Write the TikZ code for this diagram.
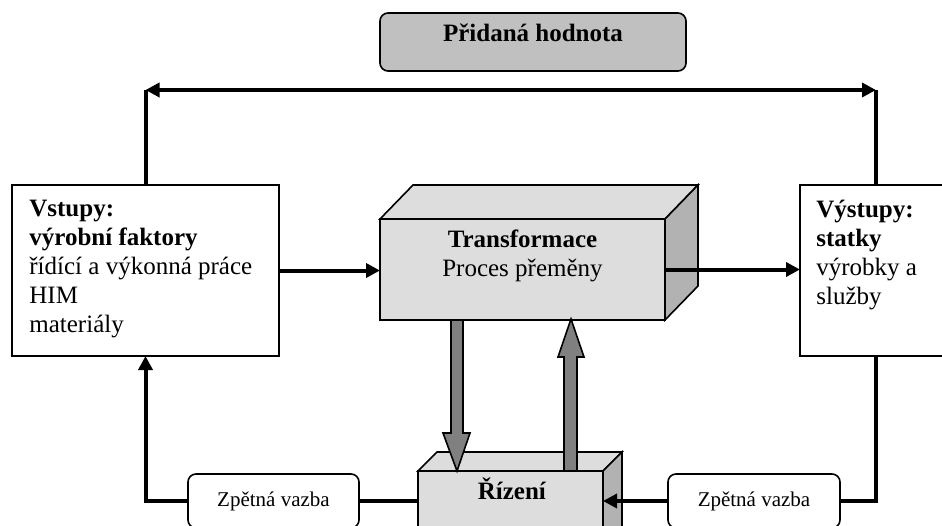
\documentclass[tikz,border=0pt]{standalone}
\usepackage{fontspec}
\setmainfont{Liberation Serif}
\usetikzlibrary{arrows.meta}
\definecolor{facegray}{RGB}{221,221,221}
\definecolor{sidegray}{RGB}{178,178,178}
\definecolor{arrowgray}{RGB}{128,128,128}
\definecolor{headgray}{RGB}{192,192,192}

\begin{document}
\begin{tikzpicture}
        [x=0.5pt,y=-0.5pt,
         box/.style={draw, line width=0.8pt, fill=white, inner sep=0pt, outer sep=0pt},
         face/.style={draw, line width=0.8pt, fill=facegray},
         roundbox/.style={box, rounded corners=4pt},
         blockarr/.style={draw, line width=0.8pt, fill=arrowgray},
         link/.style={line width=2pt},
         flow/.style={link, -{Triangle[length=7pt,width=7pt]}},
         txt/.style={inner sep=0pt, font=\fontsize{12.5}{14.5}\selectfont}]
        \clip (0,0) rectangle (942,525);
        %-----boxes
         \node[roundbox, fill=headgray, minimum width=153pt, minimum height=29pt] (pridana) at (533,42) {};
         \node[box, minimum width=133.5pt, minimum height=85.5pt] (vstupy) at (145.5,270.5) {};
         \node[box, minimum width=76pt, minimum height=85.5pt] (vystupy) at (876,270.5) {};
         \node[box, fill=facegray, minimum width=142.5pt, minimum height=50.5pt] (trans) at (522.5,269.5) {};
         \node[box, fill=facegray, minimum width=92.5pt, minimum height=37pt] (rizeni) at (510.5,508) {};
         \node[roundbox, minimum width=85.5pt, minimum height=27pt, font=\fontsize{10.5}{12}\selectfont] (zpet1) at (273.5,501) {Zpětná vazba};
         \node[roundbox, minimum width=86pt, minimum height=27pt, font=\fontsize{10.5}{12}\selectfont] (zpet2) at (754,501) {Zpětná vazba};

        %-----3D faces
         \draw[face] (trans.north west) -- ++(33,-34) -- ++(285,0) -- (trans.north east) -- cycle;
         \draw[face, fill=sidegray] (trans.north east) -- ++(33,-34) -- ++(0,101) -- (trans.south east) -- cycle;
         \draw[face] (rizeni.north west) -- ++(19,-19) -- ++(185,0) -- (rizeni.north east) -- cycle;
         \draw[face, fill=sidegray] (rizeni.north east) -- ++(19,-19) -- ++(0,101) -- (rizeni.south east) -- cycle;

        %-----texts
         \node[txt, anchor=base] (pridanatxt) at (533,41) {\textbf{Přidaná hodnota}};
         \node[txt, anchor=north west, align=left] (vstupytxt) at (29,200)
              {\textbf{Vstupy:}\\ \textbf{výrobní faktory}\\ řídící a výkonná práce\\ HIM\\ materiály};
         \node[txt, anchor=north west, align=left] (vystupytxt) at (816,200)
              {\textbf{Výstupy:}\\ \textbf{statky}\\ výrobky a\\ služby};
         \node[txt, anchor=north, align=center] (transtxt) at (522.5,229)
              {\textbf{Transformace}\\ Proces přeměny};
         \node[txt, anchor=base] (rizenitxt) at (512,499) {\textbf{Řízení}};

        %-----corners
         \coordinate (tl) at (145.5,90);
         \coordinate (tr) at (876,90);
         \coordinate (bl) at (145.5,501);
         \coordinate (br) at (876,501);
         \coordinate (dntop) at (457,320);
         \coordinate (dnbot) at (457,471);
         \coordinate (upbot) at (571,471);
         \coordinate (uptop) at (571,319);

        %-----connectors
         \draw[link] (vstupy.north) -- (tl);
         \draw[link] (vystupy.north) -- (tr);
         \draw[link, {Triangle[length=7pt,width=7pt]}-{Triangle[length=7pt,width=7pt]}] (tl) -- (tr);
         \draw[flow] (vstupy.east) -- (vstupy.east -| trans.west);
         \draw[flow] (trans.east) -- (trans.east -| vystupy.west);
         \draw[flow] (zpet1.west) -- (bl) -- (vstupy.south);
         \draw[link] (zpet1.east) -- (zpet1.east -| rizeni.west);
         \draw[link] (vystupy.south) -- (br) -- (zpet2.east);
         \draw[flow] (zpet2.west) -- (zpet2.west -| rizeni.east);

        %-----block arrows
         \draw[blockarr] (dntop) ++(-6,0) -- ++(0,113) -- ++(-8,0) -- (dnbot) -- ++(13,-38) -- ++(-7,0) -- ++(0,-113) -- cycle;
         \draw[blockarr] (upbot) ++(-7,0) -- ++(0,-114) -- ++(-6,0) -- (uptop) -- ++(13,38) -- ++(-7,0) -- ++(0,114) -- cycle;
        \end{tikzpicture}
\end{document}
